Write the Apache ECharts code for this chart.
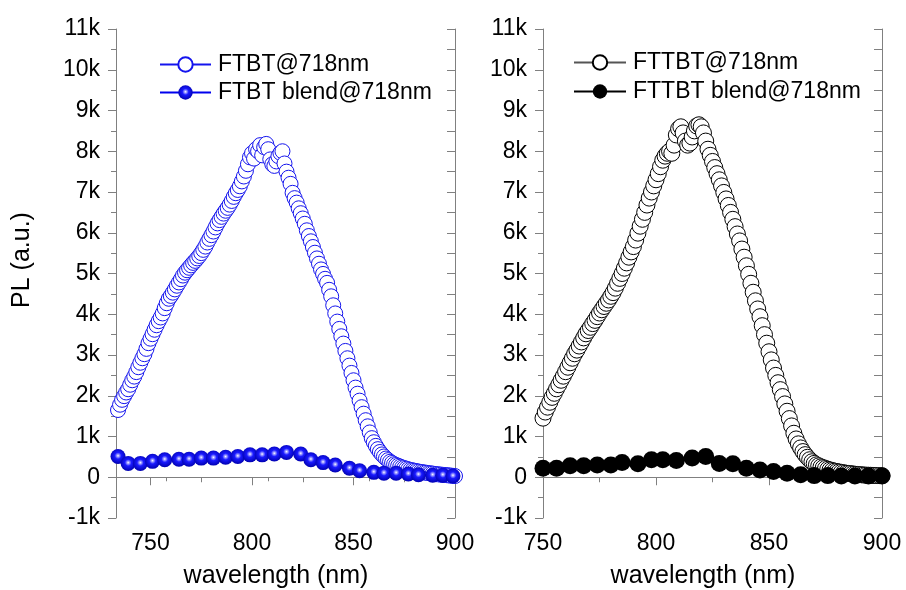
<!DOCTYPE html>
<html><head><meta charset="utf-8">
<script src="https://cdn.jsdelivr.net/npm/echarts@6/dist/echarts.min.js"></script>
<style>html,body{margin:0;padding:0;background:#fff}#c{width:906px;height:590px}</style>
</head><body><div id="c"></div>
<script>
// ---- data ----
const ftbtWl = [734,735,736,737,738,739,740,741,742,743,744,745,746,747,748,749,750,751,752,753,754,755,756,757,758,759,760,761,762,763,764,765,766,767,768,769,770,771,772,773,774,775,776,777,778,779,780,781,782,783,784,785,786,787,788,789,790,791,792,793,794,795,796,797,798,799,800,801,802,803,804,805,806,807,808,809,810,811,812,813,814,815,816,817,818,819,820,821,822,823,824,825,826,827,828,829,830,831,832,833,834,835,836,837,838,839,840,841,842,843,844,845,846,847,848,849,850,851,852,853,854,855,856,857,858,859,860,861,862,863,864,865,866,867,868,869,870,871,872,873,874,875,876,877,878,879,880,881,882,883,884,885,886,887,888,889,890,891,892,893,894,895,896,897,898,899,900];
const ftbtPL = [1650,1780,1900,1990,2080,2160,2270,2380,2470,2580,
2700,2810,2920,3020,3150,3290,3400,3510,3620,3730,
3830,3920,4020,4150,4270,4380,4450,4530,4610,4700,
4780,4860,4950,5020,5080,5140,5200,5260,5310,5370,
5430,5500,5580,5660,5760,5850,5940,6030,6130,6230,
6310,6390,6470,6540,6610,6690,6780,6880,6970,7050,
7140,7260,7380,7520,7680,7850,7950,7820,8050,8000,
8150,7900,8100,8180,8050,7800,7680,7640,7750,7880,
7960,8000,7700,7500,7350,7200,6980,6850,6740,6600,
6480,6350,6220,6060,5920,5790,5650,5510,5370,5240,
5100,4990,4870,4770,4600,4440,4220,4020,3820,3640,
3460,3280,3100,2920,2740,2560,2380,2200,2050,1880,
1720,1560,1400,1250,1100,960,860,770,690,620,
560,510,460,420,380,350,320,300,280,260,
240,225,210,195,180,170,160,150,140,130,
125,115,110,100,95,90,80,75,70,65,
60,55,50,45,40,35,30];
const ftbtBlendWl = [734,739,745,751,757,764,769,775,781,787,793,799,805,811,817,824,829,835,841,848,853,860,865,871,877,882,889,894,899];
const ftbtBlendPL = [510,340,340,390,430,440,440,470,470,490,510,550,550,570,610,570,430,360,300,220,160,120,100,100,80,60,50,50,30];

const fttbtWl = [750,751,752,753,754,755,756,757,758,759,760,761,762,763,764,765,766,767,768,769,770,771,772,773,774,775,776,777,778,779,780,781,782,783,784,785,786,787,788,789,790,791,792,793,794,795,796,797,798,799,800,801,802,803,804,805,806,807,808,809,810,811,812,813,814,815,816,817,818,819,820,821,822,823,824,825,826,827,828,829,830,831,832,833,834,835,836,837,838,839,840,841,842,843,844,845,846,847,848,849,850,851,852,853,854,855,856,857,858,859,860,861,862,863,864,865,866,867,868,869,870,871,872,873,874,875,876,877,878,879,880,881,882,883,884,885,886,887,888,889,890,891,892,893,894,895,896,897,898,899,900];
const fttbtPL = [1450,1600,1720,1840,1960,2060,2170,2270,2380,2480,
2590,2700,2810,2920,3030,3120,3220,3320,3420,3520,
3600,3680,3770,3850,3940,4030,4110,4190,4270,4350,
4440,4530,4640,4760,4880,5000,5130,5260,5400,5530,
5660,5820,5990,6160,6330,6500,6680,6850,7000,7150,
7300,7450,7620,7780,7880,7950,8000,7950,8150,8400,
8550,8600,8450,8250,8150,8200,8350,8500,8620,8650,
8600,8450,8250,8050,7900,7750,7600,7450,7300,7150,
6990,6830,6670,6500,6330,6150,5970,5800,5600,5400,
5190,4980,4760,4540,4330,4130,3940,3720,3500,3290,
3080,2880,2680,2500,2320,2150,1980,1800,1620,1440,
1260,1080,940,820,720,630,555,490,430,380,
340,305,280,255,235,215,195,180,165,150,
140,130,120,110,100,95,90,80,75,70,
65,60,55,52,50,48,46,44,42,40,
40];
const fttbtBlendWl = [750,756,762,768,774,780,785,792,798,803,809,816,822,828,834,840,846,852,858,864,870,876,882,888,894,900];
const fttbtBlendPL = [220,220,280,280,300,300,360,330,430,430,410,470,510,340,330,220,180,140,100,60,40,40,30,30,30,30];

const xTickValues = [750,800,850,900];
const xTopTickValues = [750,775,800,825,850,875,900];
const yTickLabels = ['-1k','0','1k','2k','3k','4k','5k','6k','7k','8k','9k','10k','11k'];

// ---- chart ----
const FONT = 'Liberation Sans, Arial, sans-serif';
const AX = '#808080';
const BLUE = '#1414ee';
const pairs = (xs, ys) => xs.map((x, i) => [x, ys[i]]);
const yLabel = v => yTickLabels[Math.round(v / 1000) + 1];

function bottomX(grid, min) {
  return {
    type: 'value', gridIndex: grid, position: 'bottom', min: min, max: 900, interval: 50,
    axisLine: {show: true, lineStyle: {color: AX, width: 1}},
    axisTick: {show: true, inside: false, length: 8, customValues: xTickValues, lineStyle: {color: AX}},
    minorTick: {show: true, splitNumber: 2, length: 4, lineStyle: {color: AX}},
    axisLabel: {show: true, customValues: xTickValues, fontSize: 23, color: '#000', fontFamily: FONT, margin: 14},
    splitLine: {show: false}, minorSplitLine: {show: false}
  };
}
function topX(grid, min) {
  return {
    type: 'value', gridIndex: grid, position: 'top', min: min, max: 900,
    axisLine: {show: true, lineStyle: {color: AX, width: 1}},
    axisTick: {show: true, inside: true, length: 5, customValues: xTopTickValues, lineStyle: {color: AX}},
    axisLabel: {show: false}, splitLine: {show: false}
  };
}
function leftY(grid) {
  return {
    type: 'value', gridIndex: grid, position: 'left', min: -1000, max: 11000, interval: 1000,
    axisLine: {show: true, lineStyle: {color: AX, width: 1}},
    axisTick: {show: true, inside: false, length: 8, lineStyle: {color: AX}},
    minorTick: {show: true, splitNumber: 2, length: 5, lineStyle: {color: AX}},
    axisLabel: {show: true, formatter: yLabel, fontSize: 23, color: '#000', fontFamily: FONT, margin: 16},
    splitLine: {show: false}, minorSplitLine: {show: false}
  };
}
function rightY(grid) {
  return {
    type: 'value', gridIndex: grid, position: 'right', min: -1000, max: 11000, interval: 500,
    axisLine: {show: true, lineStyle: {color: AX, width: 1}},
    axisTick: {show: true, inside: true, length: 8, lineStyle: {color: AX}},
    axisLabel: {show: false}, splitLine: {show: false}
  };
}

const blueBall = {
  type: 'radial', x: 0.5, y: 0.45, r: 0.55,
  colorStops: [
    {offset: 0, color: '#ffffff'}, {offset: 0.12, color: '#b0b0ff'},
    {offset: 0.4, color: '#1a1aff'}, {offset: 1, color: '#0000b0'}
  ]
};

const chart = echarts.init(document.getElementById('c'), null, {renderer: 'canvas'});
chart.setOption({
  animation: false,
  backgroundColor: '#fff',
  grid: [
    {left: 116, top: 29, width: 339, height: 489},
    {left: 543, top: 29, width: 339, height: 489}
  ],
  xAxis: [bottomX(0, 733), topX(0, 733), bottomX(1, 750), topX(1, 750)],
  yAxis: [leftY(0), rightY(0), leftY(1), rightY(1)],
  legend: [
    {
      orient: 'vertical', left: 159, top: 53, padding: 0, itemWidth: 51, itemHeight: 18, itemGap: 5,
      data: ['FTBT@718nm', 'FTBT blend@718nm'], selectedMode: false,
      textStyle: {fontSize: 23, color: '#000', fontFamily: FONT, padding: [0, 0, 0, 2]}
    },
    {
      orient: 'vertical', left: 573, top: 51, padding: 0, itemWidth: 52, itemHeight: 18, itemGap: 6,
      data: ['FTTBT@718nm', 'FTTBT blend@718nm'], selectedMode: false,
      textStyle: {fontSize: 23, color: '#000', fontFamily: FONT, padding: [0, 0, 0, 2]}
    }
  ],
  graphic: [
    {type: 'text', x: 22, y: 260, rotation: Math.PI / 2,
     style: {text: 'PL (a.u.)', fontSize: 25, fontFamily: FONT, fill: '#000', align: 'center', verticalAlign: 'middle'}},
    {type: 'text', x: 276, y: 576,
     style: {text: 'wavelength (nm)', fontSize: 25, fontFamily: FONT, fill: '#000', align: 'center', verticalAlign: 'middle'}},
    {type: 'text', x: 703, y: 576,
     style: {text: 'wavelength (nm)', fontSize: 25, fontFamily: FONT, fill: '#000', align: 'center', verticalAlign: 'middle'}}
  ],
  series: [
    {
      name: 'FTBT@718nm', type: 'line', xAxisIndex: 0, yAxisIndex: 0, data: pairs(ftbtWl, ftbtPL),
      symbol: 'circle', symbolSize: 15, showAllSymbol: true, clip: true,
      itemStyle: {color: '#fff', borderColor: BLUE, borderWidth: 1},
      lineStyle: {color: BLUE, width: 1}, emphasis: {disabled: true}
    },
    {
      name: 'FTBT blend@718nm', type: 'line', xAxisIndex: 0, yAxisIndex: 0, data: pairs(ftbtBlendWl, ftbtBlendPL),
      symbol: 'circle', symbolSize: 15, showAllSymbol: true, clip: true,
      itemStyle: {color: blueBall, borderWidth: 0},
      lineStyle: {color: '#0000ee', width: 3}, emphasis: {disabled: true}
    },
    {
      name: 'FTTBT@718nm', type: 'line', xAxisIndex: 2, yAxisIndex: 2, data: pairs(fttbtWl, fttbtPL),
      symbol: 'circle', symbolSize: 16, showAllSymbol: true, clip: true,
      itemStyle: {color: '#fff', borderColor: '#000', borderWidth: 1},
      lineStyle: {color: '#555', width: 1}, emphasis: {disabled: true}
    },
    {
      name: 'FTTBT blend@718nm', type: 'line', xAxisIndex: 2, yAxisIndex: 2, data: pairs(fttbtBlendWl, fttbtBlendPL),
      symbol: 'circle', symbolSize: 17, showAllSymbol: true, clip: true,
      itemStyle: {color: '#000', borderWidth: 0},
      lineStyle: {color: '#000', width: 3}, emphasis: {disabled: true}
    }
  ]
});
</script>
</body></html>
